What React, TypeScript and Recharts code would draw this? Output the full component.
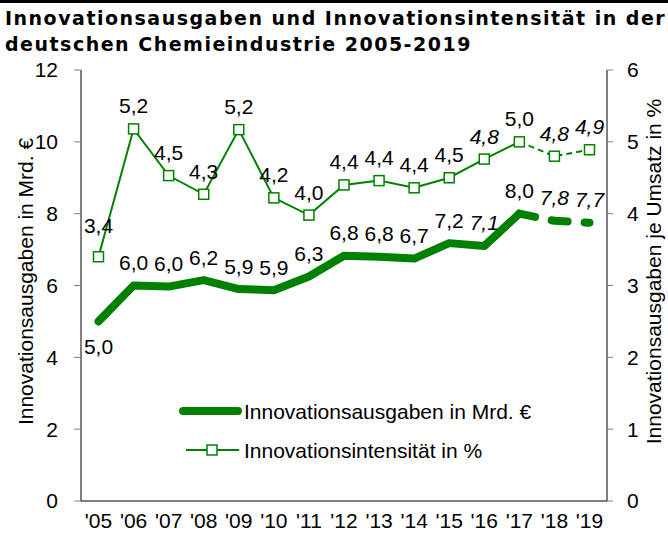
import React from 'react';
import { LineChart, Line, XAxis, YAxis, Legend, LabelList } from 'recharts';

const years = ["'05", "'06", "'07", "'08", "'09", "'10", "'11", "'12", "'13", "'14", "'15", "'16", "'17", "'18", "'19"];
const spending = [5.0, 6.0, 5.97, 6.15, 5.9, 5.87, 6.25, 6.83, 6.8, 6.75, 7.18, 7.1, 8.0, 7.8, 7.75];
const spendingLabels = ['5,0', '6,0', '6,0', '6,2', '5,9', '5,9', '6,3', '6,8', '6,8', '6,7', '7,2', '7,1', '8,0', '7,8', '7,7'];
const intensity = [3.4, 5.18, 4.53, 4.27, 5.17, 4.22, 3.98, 4.4, 4.46, 4.36, 4.5, 4.76, 5.0, 4.8, 4.89];
const intensityLabels = ['3,4', '5,2', '4,5', '4,3', '5,2', '4,2', '4,0', '4,4', '4,4', '4,4', '4,5', '4,8', '5,0', '4,8', '4,9'];
const italicYears = ["'16", "'18", "'19"];
const forecastStart = 12; // index of '17, where dashed part begins
const leftTicks = [0, 2, 4, 6, 8, 10, 12];
const rightTicks = [0, 1, 2, 3, 4, 5, 6];

const GREEN = '#008000';
const FONT = '"Liberation Sans", Arial, sans-serif';
const FS = 21;

const data = years.map((y, i) => ({
  year: y,
  spendA: i <= forecastStart ? spending[i] : null,
  spendB: i >= forecastStart ? spending[i] : null,
  intA: i <= forecastStart ? intensity[i] : null,
  intB: i >= forecastStart ? intensity[i] : null,
}));

const makeLabel = (labels: string[], range: 'A' | 'B', belowFirst: boolean, firstExtra: number) => (props: any) => {
  const { x, y, index } = props;
  if (x == null || y == null) return null;
  if (range === 'A' && index > forecastStart) return null;
  if (range === 'B' && index <= forecastStart) return null;
  const italic = italicYears.includes(years[index]);
  let dy = -23;
  if (index === 0) dy = belowFirst ? 25 : -23 - firstExtra;
  return (
    <text
      x={x}
      y={y + dy}
      textAnchor="middle"
      dominantBaseline="central"
      fontFamily={FONT}
      fontSize={FS}
      fontStyle={italic ? 'italic' : 'normal'}
      fill="#000"
    >
      {labels[index]}
    </text>
  );
};

const squareDot = (props: any) => {
  const { cx, cy, index } = props;
  if (cx == null || cy == null) return <g key={`d${index}`} />;
  return (
    <rect key={`d${index}`} x={cx - 5} y={cy - 5} width={10} height={10} fill="#fff" stroke={GREEN} strokeWidth={1.5} />
  );
};

const squareDotB = (props: any) => {
  if (props.index <= forecastStart) return <g key={`e${props.index}`} />;
  return squareDot(props);
};

const renderLegend = () => (
  <svg width={380} height={70} style={{ display: 'block' }}>
    <line x1={4} y1={16} x2={59} y2={16} stroke={GREEN} strokeWidth={8} strokeLinecap="round" />
    <text x={65} y={16} dominantBaseline="central" fontFamily={FONT} fontSize={FS} fill="#000">
      Innovationsausgaben in Mrd. €
    </text>
    <line x1={7} y1={55} x2={60} y2={55} stroke={GREEN} strokeWidth={2} />
    <rect x={28} y={50} width={10} height={10} fill="#fff" stroke={GREEN} strokeWidth={1.5} />
    <text x={65} y={55} dominantBaseline="central" fontFamily={FONT} fontSize={FS} fill="#000">
      Innovationsintensität in %
    </text>
  </svg>
);

export default function App() {
  return (
    <div style={{ position: 'absolute', left: 0, top: 0, width: 668, height: 540, background: '#fff', overflow: 'hidden' }}>
      <div style={{ position: 'absolute', left: 0, top: 0, width: 668, height: 3, background: '#000' }} />
      <div
        style={{
          position: 'absolute',
          left: 5,
          top: 5,
          fontFamily: '"DejaVu Sans", Verdana, sans-serif',
          fontWeight: 'bold',
          fontSize: 19,
          letterSpacing: 1.5,
          lineHeight: '26px',
          color: '#000',
          whiteSpace: 'nowrap',
        }}
      >
        <div>Innovationsausgaben und Innovationsintensität in der</div>
        <div>deutschen Chemieindustrie 2005-2019</div>
      </div>
      <div style={{ position: 'absolute', left: 0, top: 0 }}>
        <LineChart width={668} height={540} data={data} margin={{ top: 70, right: 0, bottom: 0, left: 0 }}>
          <XAxis
            dataKey="year"
            tickLine={false}
            tickSize={0}
            tickMargin={12}
            height={39}
            padding={{ left: 17.5, right: 17.5 }}
            stroke="#000"
            tick={{ fontFamily: FONT, fontSize: FS, fill: '#000' }}
            interval={0}
          />
          <YAxis
            yAxisId="left"
            domain={[0, 12]}
            ticks={leftTicks}
            width={81}
            tickSize={7}
            tickMargin={16}
            stroke="#000"
            tickLine={{ stroke: '#808080' }}
            tick={{ fontFamily: FONT, fontSize: FS, fill: '#000' }}
            label={{
              content: (p: any) => {
                const vb = p.viewBox;
                const cx = 25;
                const cy = vb.y + vb.height / 2 - 4;
                return (
                  <text x={cx} y={cy} transform={`rotate(-90 ${cx} ${cy})`} textAnchor="middle" dominantBaseline="central" fontFamily={FONT} fontSize={FS} fill="#000">
                    Innovationsausgaben in Mrd. €
                  </text>
                );
              },
            }}
          />
          <YAxis
            yAxisId="right"
            orientation="right"
            domain={[0, 6]}
            ticks={rightTicks}
            width={61}
            tickSize={6}
            tickMargin={14}
            stroke="#000"
            tickLine={{ stroke: '#808080' }}
            tick={{ fontFamily: FONT, fontSize: FS, fill: '#000' }}
            label={{
              content: (p: any) => {
                const vb = p.viewBox;
                const cx = 653;
                const cy = vb.y + vb.height / 2 - 14;
                return (
                  <text x={cx} y={cy} transform={`rotate(-90 ${cx} ${cy})`} textAnchor="middle" dominantBaseline="central" fontFamily={FONT} fontSize={FS} fill="#000">
                    Innovationsausgaben je Umsatz in %
                  </text>
                );
              },
            }}
          />
          <Legend layout="vertical" align="center" verticalAlign="middle" wrapperStyle={{ left: 179, top: 395, width: 380 }} content={renderLegend} />
          <Line yAxisId="left" dataKey="spendA" stroke={GREEN} strokeWidth={8} strokeLinecap="round" strokeLinejoin="round" dot={false} activeDot={false} isAnimationActive={false} connectNulls={false}>
            <LabelList dataKey="spendA" content={makeLabel(spendingLabels, 'A', true, 0)} />
          </Line>
          <Line yAxisId="left" dataKey="spendB" stroke={GREEN} strokeWidth={8} strokeLinecap="round" strokeDasharray="16 17" dot={false} activeDot={false} isAnimationActive={false}>
            <LabelList dataKey="spendB" content={makeLabel(spendingLabels, 'B', true, 0)} />
          </Line>
          <Line yAxisId="right" dataKey="intA" stroke={GREEN} strokeWidth={2} dot={squareDot} activeDot={false} isAnimationActive={false}>
            <LabelList dataKey="intA" content={makeLabel(intensityLabels, 'A', false, 8)} />
          </Line>
          <Line yAxisId="right" dataKey="intB" stroke={GREEN} strokeWidth={2} strokeDasharray="6 4" dot={squareDotB} activeDot={false} isAnimationActive={false}>
            <LabelList dataKey="intB" content={makeLabel(intensityLabels, 'B', false, 0)} />
          </Line>
        </LineChart>
      </div>
    </div>
  );
}
